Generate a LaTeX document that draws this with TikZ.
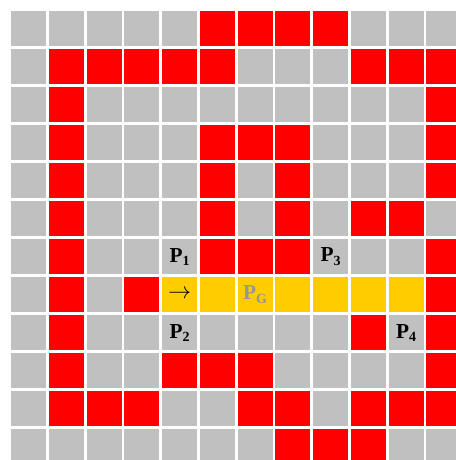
\documentclass[tikz,border=0pt]{standalone}
\usepackage{fontspec}
\setmainfont{Liberation Serif}
\definecolor{cG}{RGB}{192,192,192}
\definecolor{cR}{RGB}{255,0,0}
\definecolor{cY}{RGB}{255,204,0}
\definecolor{pgray}{RGB}{150,150,150}
\newcommand\plbl[1]{P\raisebox{-2.6pt}{\fontsize{10.5}{12}\selectfont #1}}
\tikzset{
  cell/.style={draw=none, inner sep=0pt, minimum width=26.4pt, minimum height=26.6pt},
  lab/.style={inner sep=0pt, font=\fontsize{16}{18}\selectfont\bfseries, text=black},
}
\begin{document}
\begin{tikzpicture}[x=0.75pt, y=-0.75pt]
\useasboundingbox (0,0) rectangle (456,460);
\fill[white] (0,0) rectangle (456,460);
\foreach \row [count=\r from 0] in {
  {G,G,G,G,G,R,R,R,R,G,G,G},
  {G,R,R,R,R,R,G,G,G,R,R,R},
  {G,R,G,G,G,G,G,G,G,G,G,R},
  {G,R,G,G,G,R,R,R,G,G,G,R},
  {G,R,G,G,G,R,G,R,G,G,G,R},
  {G,R,G,G,G,R,G,R,G,R,R,G},
  {G,R,G,G,G,R,R,R,G,G,G,R},
  {G,R,G,R,Y,Y,Y,Y,Y,Y,Y,R},
  {G,R,G,G,G,G,G,G,G,R,G,R},
  {G,R,G,G,R,R,R,G,G,G,G,R},
  {G,R,R,R,G,G,R,R,G,R,R,R},
  {G,G,G,G,G,G,G,R,R,R,G,G}} {
  \foreach \c [count=\k from 0] in \row {
    \node[cell, fill=c\c] (c\r-\k) at ({11+37.75*\k+17.6}, {11+38*\r+17.75}) {};
  }
}
\node[lab] (p1) at (c6-4) {\plbl{1}};
\node[lab] (p3) at (c6-8) {\plbl{3}};
\node[lab] (p2) at (c8-4) {\plbl{2}};
\node[lab] (p4) at (c8-10) {\plbl{4}};
\node[lab, font=\fontsize{16}{18}\selectfont\mdseries] (arr) at (c7-4) {$\rightarrow$};
\node[lab, text=pgray] (pg) at (c7-6) {\plbl{G}};
\end{tikzpicture}
\end{document}
